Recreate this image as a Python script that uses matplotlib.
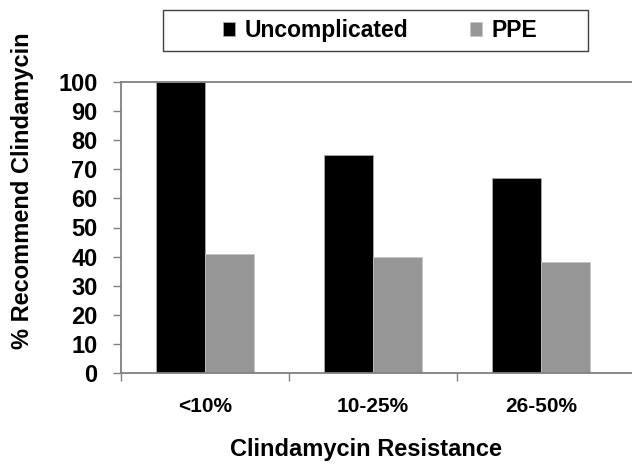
import matplotlib
matplotlib.use('Agg')
import matplotlib.pyplot as plt
from matplotlib.patches import Rectangle
import numpy as np

# data
categories = ['<10%', '10-25%', '26-50%']
uncomplicated = [100, 75, 67]
ppe = [41, 40, 38]
y_ticks = list(range(0, 101, 10))

plt.rcParams['font.family'] = ['Liberation Sans', 'DejaVu Sans']
plt.rcParams['font.weight'] = 'bold'

fig = plt.figure(figsize=(6.32, 4.67), dpi=100)
ax = fig.add_axes([121/632, 1-373/467, 511/632, 291/467])

x = np.arange(len(categories))
w = 0.29
ax.bar(x - w/2, uncomplicated, w, color='black', edgecolor='#b0b0b0', linewidth=0.5, label='Uncomplicated')
ax.bar(x + w/2, ppe, w, color='#969696', edgecolor='#c8c8c8', linewidth=0.5, label='PPE')

ax.set_xlim(-0.5, 2.542)
ax.set_ylim(0, 100)
ax.set_yticks(y_ticks)
ax.tick_params(axis='y', length=6, width=1, color='#808080', pad=11, labelsize=17)

# labels at centres, ticks at category boundaries
ax.set_xticks(x)
ax.set_xticklabels(categories)
ax.tick_params(axis='x', which='major', length=0, pad=17, labelsize=15)
ax.set_xticks([-0.5, 0.5, 1.5], minor=True)
ax.tick_params(axis='x', which='minor', length=6, width=1, color='#808080')

for s in ['left', 'bottom', 'top']:
    ax.spines[s].set_color('#808080')
    ax.spines[s].set_linewidth(1.3)
ax.spines['right'].set_visible(False)

ax.set_xlabel('Clindamycin Resistance', fontsize=17, fontweight='bold')
ax.xaxis.set_label_coords(0.48, -0.225)
ax.set_ylabel('% Recommend Clindamycin', fontsize=17, fontweight='bold')
ax.yaxis.set_label_coords(-0.17, 0.625)

# legend box
fig.patches.append(Rectangle((163/632, 1-51/467), 425/632, 41/467, transform=fig.transFigure,
                             facecolor='white', edgecolor='#404040', linewidth=1, zorder=0))
fig.legend(loc='center', bbox_to_anchor=(380/632, 1-30.5/467), ncol=2, frameon=False,
           handlelength=0.55, handleheight=0.55, handletextpad=0.4,
           columnspacing=2.7, prop={'weight': 'bold', 'size': 16.5})

fig.savefig('out.png', dpi=100)
